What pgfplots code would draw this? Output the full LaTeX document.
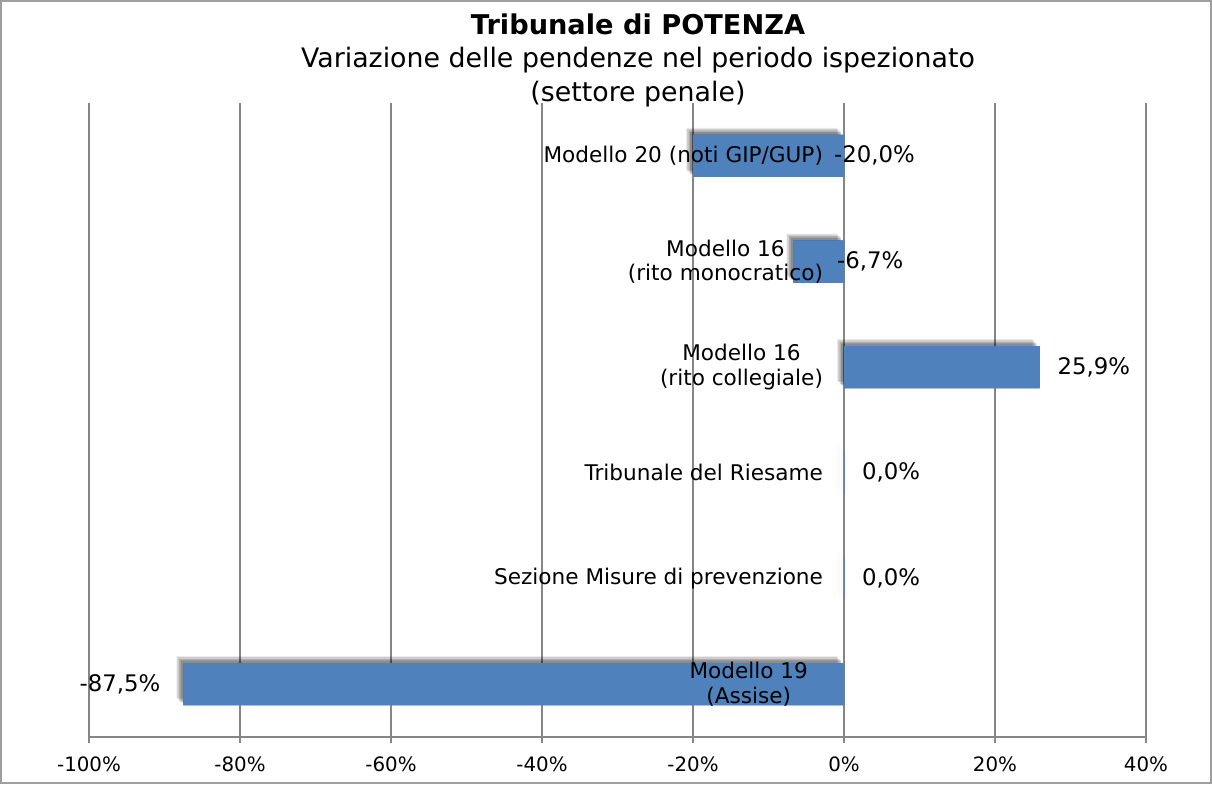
\documentclass[border=0pt]{standalone}
\usepackage{pgfplots}
\pgfplotsset{compat=1.18}
\usepackage{fontspec}
\setmainfont{DejaVu Sans}
\usetikzlibrary{shadows}
\definecolor{barblue}{RGB}{79,129,189}
\definecolor{gridgray}{RGB}{134,134,134}
\tikzset{lab/.style={font=\fontsize{10.8}{12.2}\selectfont, align=center, text=black},
         val/.style={font=\fontsize{11.4}{13}\selectfont, text=black}}
\begin{document}
\begin{tikzpicture}
\useasboundingbox (0,0) rectangle (606pt,392pt);
\draw[gridgray!80,line width=0.8pt] (0.4pt,0.4pt) rectangle (605.6pt,391.6pt);
\node[font=\bfseries\fontsize{13.6}{15}\selectfont] at (319pt,380pt) {Tribunale di POTENZA};
\node[font=\fontsize{13.4}{15}\selectfont] at (319pt,362pt) {Variazione delle pendenze nel periodo ispezionato};
\node[font=\fontsize{13.4}{15}\selectfont] at (319pt,345pt) {(settore penale)};
\begin{axis}[
  at={(44.5pt,23.5pt)}, anchor=south west,
  scale only axis, width=528.5pt, height=317pt,
  xbar, bar width=21pt,
  xmin=-100, xmax=40, ymin=-0.5, ymax=5.5,
  y dir=reverse,
  xtick={-100,-80,-60,-40,-20,0,20,40},
  xticklabels={-100\%,-80\%,-60\%,-40\%,-20\%,0\%,20\%,40\%},
  ytick=\empty,
  axis x line*=bottom, axis y line=none,
  x axis line style={gridgray, line width=0.8pt, -},
  xmajorgrids, major grid style={gridgray, line width=0.8pt},
  major tick length=3pt, tick align=outside,
  xtick style={gridgray, line width=0.8pt},
  xticklabel style={font=\fontsize{9.9}{11}\selectfont, text=black, yshift=-3.5pt},
  clip=false,
]
\addplot[fill=barblue, draw=none,
  preaction={drop shadow={shadow xshift=-3.5pt, shadow yshift=3.5pt, opacity=.08, fill=black}},
  preaction={drop shadow={shadow xshift=-3pt, shadow yshift=3pt, opacity=.12, fill=black}},
  preaction={drop shadow={shadow xshift=-2.2pt, shadow yshift=2.2pt, opacity=.15, fill=black}},
  preaction={drop shadow={shadow xshift=-1.4pt, shadow yshift=1.4pt, opacity=.2, fill=black}}]
  coordinates {(-20.0,0) (-6.7,1) (25.9,2) (0,3) (0,4) (-87.5,5)};
\node[lab, anchor=east, xshift=-7pt] at (axis cs:0,0) {Modello 20 (noti GIP/GUP)};
\node[lab, anchor=east, xshift=-7pt] at (axis cs:0,1) {Modello 16\\(rito monocratico)};
\node[lab, anchor=east, xshift=-7pt] at (axis cs:0,2) {Modello 16\\(rito collegiale)};
\node[lab, anchor=east, xshift=-7pt] at (axis cs:0,3) {Tribunale del Riesame};
\node[lab, anchor=east, xshift=-7pt] at (axis cs:0,4) {Sezione Misure di prevenzione};
\node[lab, anchor=east, xshift=-14.5pt] at (axis cs:0,5) {Modello 19\\(Assise)};
\node[val, anchor=west, xshift=-8.5pt] at (axis cs:0,0) {-20,0\%};
\node[val, anchor=west, xshift=-7pt] at (axis cs:0,1) {-6,7\%};
\node[val, anchor=west, xshift=5.5pt] at (axis cs:25.9,2) {25,9\%};
\node[val, anchor=west, xshift=5.5pt] at (axis cs:0,3) {0,0\%};
\node[val, anchor=west, xshift=5.5pt] at (axis cs:0,4) {0,0\%};
\node[val, anchor=east, xshift=-8pt] at (axis cs:-87.5,5) {-87,5\%};
\end{axis}
\end{tikzpicture}
\end{document}
